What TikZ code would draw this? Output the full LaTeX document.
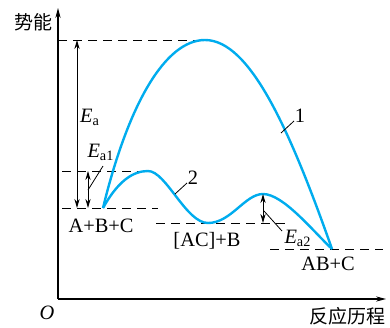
\documentclass[tikz,border=0pt]{standalone}
\usepackage{fontspec}
\setmainfont{Liberation Serif}
\newfontfamily\cjk{Noto Sans CJK SC}
\usetikzlibrary{arrows.meta}

\definecolor{curvecyan}{RGB}{0,172,238}

\begin{document}
\begin{tikzpicture}[
    x=0.5pt, y=-0.5pt,
    axis/.style={line width=0.6pt,-{Stealth[length=5pt,width=2.6pt]}},
    level/.style={line width=0.5pt,dash pattern=on 4.5pt off 3pt},
    gap/.style={line width=0.5pt,{Stealth[length=4.5pt,width=2.6pt]}-{Stealth[length=4.5pt,width=2.6pt]}},
    path1/.style={curvecyan,line width=1.2pt},
    leader/.style={line width=0.4pt},
    lbl/.style={inner sep=0pt,font=\fontsize{10.2}{12}\selectfont},
    cn/.style={inner sep=0pt,font=\cjk\fontsize{9.5}{11}\selectfont},
  ]
    \useasboundingbox (0,0) rectangle (390,327);
    % axes
    \coordinate (origin) at (58,299);
    \coordinate (ytip)   at (58,8);
    \coordinate (xtip)   at (386,299);
    \draw[axis] (origin) -- (ytip);
    \draw[axis] (origin) -- (xtip);
    \node[cn]  (ylab) at (33,22)  {势能};
    \node[cn]  (xlab) at (347,316) {反应历程};
    \node[lbl] (o)    at (47,313) {\textit{O}};

    % energy levels
    \coordinate (abc)  at (103,208);
    \coordinate (top1) at (205,40);
    \coordinate (top2) at (148,171);
    \coordinate (mid)  at (208,223);
    \coordinate (top3) at (263,194);
    \coordinate (prod) at (332,249);
    \draw[level] (58,40)   -- (top1);
    \draw[level] (62,171)  -- (top2);
    \draw[level] (62,208)  -- (158,208);
    \draw[level] (156,223) -- (286,223);
    \draw[level] (270,249) -- (383,249);

    % paths
    \draw[path1] (abc) .. controls (128,105) and (165,40) .. (top1)
                       .. controls (250,40) and (290,130) .. (prod);
    \draw[path1] (abc) .. controls (118,181) and (133,171) .. (top2)
                       .. controls (166,171) and (186,223) .. (mid)
                       .. controls (231,223) and (245,194) .. (top3)
                       .. controls (283,194) and (312,230) .. (prod);

    % activation energies
    \draw[gap] (77,40)  -- (77,208);
    \draw[gap] (88,171) -- (88,208);
    \draw[gap] (263,194) -- (263,223);
    \node[lbl] (ea)  at (90,117)  {\textit{E}\textsubscript{a}};
    \node[lbl] (ea1) at (101,152) {\textit{E}\textsubscript{a1}};
    \node[lbl] (ea2) at (298,238) {\textit{E}\textsubscript{a2}};
    \draw[leader] (103,166) -- (88,190);
    \draw[leader] (282,231) -- (264,211);

    % curve numbers
    \node[lbl] (n1) at (300,116) {1};
    \node[lbl] (n2) at (193,178) {2};
    \draw[leader] (294,121) -- (281,133);
    \draw[leader] (187,183) -- (175,194);

    % species
    \node[lbl] (s1) at (101,226) {A+B+C};
    \node[lbl] (s2) at (207,241) {[AC]+B};
    \node[lbl] (s3) at (328,264) {AB+C};
  \end{tikzpicture}
\end{document}
